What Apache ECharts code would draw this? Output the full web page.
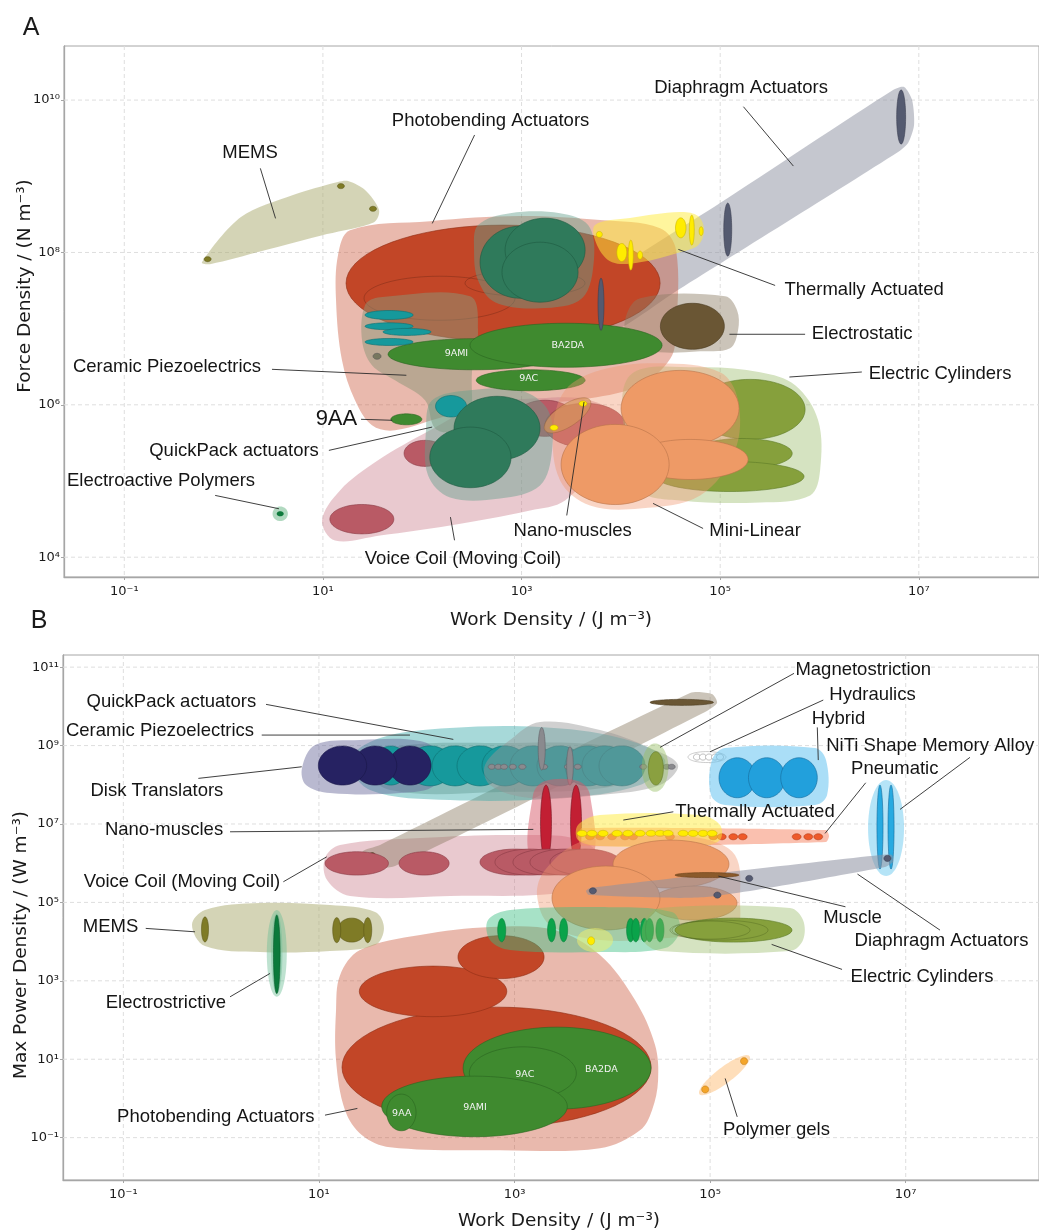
<!DOCTYPE html>
<html>
<head>
<meta charset="utf-8">
<script src="https://cdn.jsdelivr.net/npm/echarts@6/dist/echarts.min.js"></script>
<style>
  html, body { margin: 0; padding: 0; background: #fff; }
  #chart { width: 1039px; height: 1232px; }
</style>
</head>
<body>
<div id="chart"></div>
<script>
// All positions are log10 exponents of the plotted quantity.
// Ellipse records: [log10 work, log10 y, half-width (decades), half-height (decades)]
// Tilted ellipse records: [cx, cy, ax, ay, bx, by] (two conjugate semi-axis vectors).
// Envelope records: closed outlines, list of [log10 work, log10 y] vertices.

// ---------------- axes ----------------
const workTicksA = [-1, 1, 3, 5, 7];
const forceTicksA = [4, 6, 8, 10];
const workTicksB = [-1, 1, 3, 5, 7];
const powerTicksB = [-1, 1, 3, 5, 7, 9, 11];
const workRangeA = [-1.607, 8.21];
const forceRangeA = [3.74, 10.71];
const workRangeB = [-1.617, 8.363];
const powerRangeB = [-2.08, 11.31];

// ---------------- Panel A: force density ----------------
const envPhotobendingA = [[[1.273,8.293],[2.079,8.411],[2.984,8.477],[3.790,8.425],[4.395,8.319],[4.556,8.030],[4.556,6.979],[4.500,6.611],[4.193,6.256],[3.690,6.085],[2.984,5.993],[2.280,5.862],[1.726,5.665],[1.494,5.731],[1.323,6.059],[1.192,6.585],[1.132,7.373],[1.152,7.965]]];
const envVoiceCoilA = [[[0.991,4.483],[1.172,4.877],[1.555,5.271],[2.079,5.665],[2.582,5.993],[3.186,6.085],[3.690,6.059],[3.992,5.797],[3.790,5.271],[3.438,4.745],[3.086,4.614],[2.280,4.417],[1.575,4.286],[1.122,4.220]]];
const voiceCoilA = [[1.392,4.499,0.322,0.193],[2.028,5.363,0.211,0.171],[3.237,5.823,0.302,0.237],[3.639,5.731,0.403,0.289]];
const photobendingRedA = [[2.814,7.597,1.581,0.762]];
const photobendingRedOutlineA = [[2.174,7.399,0.760,0.289],[3.035,7.597,0.604,0.171]];
const envDiaphragmA = [[[3.770,7.610],[4.999,8.648],[6.741,10.133],[6.852,10.172],[6.932,10.000],[6.952,9.673],[6.892,9.436],[6.791,9.318],[4.526,7.465],[3.911,6.953],[3.770,7.110],[3.690,7.373]]];
const diaphragmA = [[3.800,7.320,0.030,0.342],[5.076,8.300,0.040,0.348],[6.822,9.778,0.045,0.355]];
const envThermalA = [[[3.740,8.359],[4.092,8.451],[4.596,8.530],[4.777,8.477],[4.838,8.293],[4.777,8.096],[4.596,8.004],[4.193,7.872],[3.911,7.872],[3.760,8.096]]];
const thermalA = [[3.783,8.237,0.030,0.039],[4.009,8.000,0.050,0.118],[4.100,7.965,0.025,0.197],[4.193,7.965,0.025,0.053],[4.603,8.323,0.053,0.131],[4.714,8.293,0.025,0.197],[4.808,8.280,0.020,0.059]];
const envElectrostaticA = [[[4.193,7.399],[5.049,7.425],[5.170,7.241],[5.180,6.979],[5.099,6.742],[4.798,6.703],[4.395,6.690],[4.093,6.782],[4.042,7.110]]];
const electrostaticA = [[4.720,7.031,0.322,0.302]];
const envMemsA = [[[-0.218,7.872],[0.175,8.464],[0.699,8.753],[1.151,8.924],[1.253,8.937],[1.424,8.819],[1.565,8.556],[1.515,8.398],[1.041,8.241],[0.387,8.018],[-0.137,7.846]]];
const memsA = [[-0.161,7.912,0.035,0.033],[1.181,8.871,0.035,0.033],[1.504,8.573,0.035,0.033]];
const envCeramicA = [[[1.424,7.307],[1.575,7.412],[2.481,7.425],[2.562,6.979],[2.502,6.454],[2.481,5.797],[2.330,5.639],[2.129,5.692],[2.028,6.059],[1.726,6.322],[1.494,6.519],[1.394,6.848]]];
const ceramicA = [[1.666,7.179,0.242,0.059],[1.666,7.031,0.242,0.046],[1.847,6.957,0.242,0.046],[1.666,6.825,0.242,0.046],[2.290,5.981,0.156,0.141]];
const ceramicDotA = [[1.545,6.637,0.040,0.039]];
const envQuickPackA = [
  [[2.562,8.359],[2.884,8.516],[3.388,8.516],[3.670,8.359],[3.730,7.925],[3.609,7.399],[3.186,7.268],[2.733,7.347],[2.562,7.636],[2.522,8.030]],
  [[2.099,6.059],[2.481,6.191],[2.985,6.191],[3.267,5.928],[3.307,5.402],[3.186,4.942],[2.783,4.771],[2.280,4.784],[2.058,5.074],[2.038,5.665]]
];
const quickPackA = [[2.985,7.872,0.403,0.473],[3.237,8.030,0.403,0.420],[3.186,7.741,0.383,0.394],[2.753,5.692,0.433,0.420],[2.485,5.310,0.409,0.398]];
// photobending composites: 9AMI, BA2DA, 9AC, 9AA
const photobendingGreenA = [[2.522,6.664,0.866,0.204],[3.448,6.782,0.967,0.289],[3.092,6.322,0.548,0.138],[1.840,5.810,0.156,0.072]];
const envCylindersA = [[[4.093,6.388],[4.798,6.493],[5.402,6.427],[5.755,6.256],[5.986,5.797],[6.006,5.140],[5.906,4.811],[5.402,4.719],[4.596,4.745],[4.193,4.877],[4.042,5.534]]];
const cylindersA = [[5.301,5.940,0.554,0.394],[5.221,5.361,0.504,0.197],[5.099,5.059,0.745,0.197]];
const envMiniLinearA = [[[3.790,6.454],[4.395,6.546],[4.999,6.427],[5.180,6.059],[5.150,5.402],[4.798,4.811],[4.193,4.640],[3.690,4.680],[3.388,5.008],[3.317,5.665],[3.438,6.191]]];
const miniLinearA = [[4.596,5.953,0.594,0.499],[4.697,5.283,0.584,0.263],[3.942,5.217,0.544,0.526]];
const nanoMusclesA = [[3.463,5.862,0.227,0.197,0.061,-0.121]];
const nanoDotsA = [[3.618,6.016,0.040,0.035],[3.327,5.700,0.040,0.035]];
const eapHaloA = [[0.570,4.570,0.077,0.096]];
const eapA = [[0.570,4.570,0.035,0.033]];

const labelTextA = ['MEMS','Photobending Actuators','Diaphragm Actuators','Thermally Actuated','Electrostatic','Electric Cylinders','Mini-Linear','Nano-muscles','Voice Coil (Moving Coil)','Ceramic Piezoelectrics','9AA','QuickPack actuators','Electroactive Polymers'];
const labelPosA = [[0.266,9.305],[2.688,9.729],[5.210,10.155],[6.449,7.505],[6.429,6.936],[7.214,6.401],[5.351,4.351],[3.515,4.351],[2.410,3.983],[-0.570,6.497],[1.136,5.819],[0.105,5.389],[-0.630,4.999]];
const leaderA = [[[0.370,9.104],[0.523,8.447]],[[2.527,9.542],[2.101,8.381]],[[5.234,9.913],[5.737,9.134]],[[4.579,8.040],[5.553,7.567]],[[5.093,6.926],[5.855,6.926]],[[5.697,6.365],[6.426,6.431]],[[4.324,4.706],[4.828,4.377]],[[3.455,4.548],[3.629,6.037]],[[2.325,4.222],[2.284,4.526]],[[0.487,6.466],[1.840,6.388]],[[1.384,5.810],[1.698,5.797]],[[1.060,5.402],[2.100,5.708]],[[-0.085,4.811],[0.557,4.636]]];
const tagTextA = ['9AMI','BA2DA','9AC'];
const tagPosA = [[2.344,6.673],[3.465,6.773],[3.072,6.348]];

// ---------------- Panel B: max power density ----------------
const envPhotobendingB = [[[1.216,3.145],[1.420,3.783],[2.034,4.166],[2.760,4.370],[3.414,4.293],[3.874,3.656],[4.232,2.508],[4.437,1.360],[4.468,0.467],[4.406,-0.298],[4.283,-0.809],[3.874,-1.268],[2.852,-1.319],[1.727,-1.242],[1.441,-0.936],[1.267,-0.298],[1.175,0.977],[1.175,2.253]]];
const photobendingRedB = [[2.816,0.798,1.580,1.531],[2.167,2.730,0.754,0.645],[2.862,3.605,0.440,0.548]];
// BA2DA, 9AC, 9AMI, 9AA
const photobendingGreenB = [[3.435,0.773,0.961,1.046],[3.085,0.645,0.547,0.671],[2.591,-0.204,0.949,0.773],[1.843,-0.357,0.150,0.467]];
const envMemsB = [[[-0.298,4.426],[-0.165,4.809],[0.398,4.982],[1.113,4.931],[1.574,4.753],[1.665,4.344],[1.574,3.911],[1.113,3.758],[0.398,3.732],[-0.165,3.885]]];
const memsB = [[1.335,4.293,0.143,0.306],[-0.165,4.311,0.036,0.319],[1.182,4.293,0.041,0.319],[1.499,4.293,0.041,0.319]];
const electrostrictiveHaloB = [[0.569,3.699,0.102,1.105],[0.569,3.699,0.058,1.020]];
const electrostrictiveB = [[0.569,3.676,0.034,1.000]];
const envVoiceCoilB = [[[1.062,6.130],[1.216,6.462],[2.034,6.640],[3.056,6.717],[3.670,6.589],[3.925,5.952],[3.670,5.314],[2.340,5.161],[1.318,5.161],[1.083,5.569]]];
const voiceCoilB = [[1.387,5.995,0.324,0.298],[2.075,5.995,0.256,0.298],[3.005,6.028,0.358,0.332],[3.158,6.028,0.358,0.332],[3.342,6.028,0.358,0.332],[3.516,6.028,0.358,0.332],[3.721,6.028,0.358,0.332]];
const envElectrostaticB = [[[1.441,6.283],[1.625,6.462],[4.795,10.339],[5.019,10.314],[5.071,10.084],[4.948,9.855],[1.778,5.926],[1.522,5.926]]];
const electrostaticB = [[1.546,6.207,0.031,0.064],[4.710,10.102,0.324,0.077]];
const envCeramicB = [[[1.318,8.630],[1.625,9.191],[2.340,9.446],[3.261,9.472],[4.079,9.191],[4.539,8.630],[4.283,7.992],[3.465,7.661],[2.340,7.610],[1.522,7.865]]];
const envQuickPackB = [[[1.420,8.579],[1.829,8.987],[2.852,9.064],[3.874,9.013],[4.334,8.630],[4.079,7.992],[2.852,7.814],[1.727,7.865]]];
const envDiskB = [[[0.827,8.426],[0.960,9.013],[1.420,9.140],[2.034,9.115],[2.238,8.758],[2.187,7.992],[1.829,7.788],[1.113,7.788],[0.868,7.992]]];
const ceramicB = [[1.735,8.490,0.179,0.497],[2.136,8.482,0.235,0.510],[2.392,8.482,0.235,0.510],[2.647,8.482,0.235,0.510],[2.903,8.482,0.235,0.510],[3.189,8.482,0.235,0.510],[3.465,8.482,0.235,0.510],[3.751,8.482,0.235,0.510],[3.925,8.482,0.235,0.510],[4.099,8.482,0.235,0.510]];
const diskB = [[1.931,8.490,0.215,0.497],[1.574,8.490,0.222,0.497],[1.241,8.490,0.247,0.497]];
const envMagnetoB = [[[2.698,8.503],[2.954,9.140],[3.261,9.599],[3.874,9.395],[4.385,8.936],[4.672,8.503],[4.488,7.992],[3.874,7.737],[3.159,7.661],[2.749,7.992]]];
const magnetoDotX = [2.767,2.834,2.893,2.982,3.080,3.302,3.547,3.646,4.317,4.495,4.556,4.607];
const magnetoTallB = [[3.278,8.918,0.036,0.543],[3.567,8.482,0.034,0.490]];
const magnetoHaloB = [[4.437,8.439,0.136,0.617]];
const magnetoOliveB = [[4.445,8.418,0.077,0.426]];
const hydraulicsEnvB = [[4.968,8.707,0.194,0.140]];
const hydraulicsDotX = [4.866,4.927,4.989,5.050,5.101];
const envHybridB = [[[5.019,8.630],[5.152,8.936],[6.073,8.936],[6.185,8.630],[6.196,7.737],[6.073,7.482],[5.152,7.482],[5.009,7.737]]];
const hybridB = [[5.278,8.179,0.187,0.510],[5.579,8.179,0.187,0.510],[5.909,8.179,0.187,0.510]];
const nitiEnvB = [[6.799,6.896,0.184,1.224]];
const nitiB = [[6.737,6.921,0.031,1.071],[6.850,6.921,0.031,1.071]];
const envNanoB = [[[3.189,7.737],[3.312,8.094],[3.649,8.094],[3.772,7.737],[3.772,6.028],[3.189,6.028]]];
const nanoB = [[3.322,7.023,0.056,0.969],[3.629,7.023,0.056,0.969]];
const envPneumaticB = [[[3.690,6.895],[6.185,6.844],[6.216,6.691],[6.185,6.538],[3.690,6.436],[3.649,6.665]]];
const pneumaticDotX = [3.772,3.874,3.997,4.130,4.212,4.590,5.033,5.119,5.237,5.333,5.885,6.004,6.106];
const envThermalB = [[[3.649,6.972],[3.874,7.227],[4.897,7.227],[5.101,6.972],[5.101,6.589],[4.897,6.436],[3.874,6.436],[3.649,6.589]]];
const thermalDotX = [3.690,3.792,3.905,4.048,4.160,4.283,4.396,4.488,4.570,4.724,4.826,4.928,5.020];
const envMiniLinearB = [[[3.312,5.824],[3.670,6.538],[4.283,6.691],[4.897,6.640],[5.254,6.207],[5.306,5.059],[5.254,4.293],[4.692,4.115],[3.874,4.039],[3.363,4.421],[3.230,5.186]]];
const miniLinearB = [[4.600,5.977,0.593,0.612],[4.835,4.982,0.440,0.434],[3.935,5.112,0.552,0.816]];
const envGreenBandB = [[[2.729,4.549],[2.954,4.804],[3.874,4.880],[4.610,4.753],[4.692,4.293],[4.539,3.834],[3.874,3.732],[2.954,3.783],[2.749,4.039]]];
const greenBandX = [2.869,3.379,3.502,4.187,4.240,4.328,4.380,4.487];
const yellowHaloB = [[3.823,4.039,0.184,0.306]];
const yellowDotB = [[3.783,4.020,0.036,0.102]];
const envCylindersB = [[[4.334,4.549],[4.487,4.855],[5.817,4.855],[5.950,4.549],[5.950,4.039],[5.817,3.758],[4.487,3.758],[4.314,4.039]]];
const cylindersB = [[5.239,4.293,0.598,0.306]];
const cylindersOutlineB = [[5.101,4.293,0.491,0.255],[4.999,4.293,0.409,0.230]];
const envDiaphragmB = [[[3.772,5.365],[6.737,6.207],[6.860,6.207],[6.870,6.028],[6.788,5.901],[4.958,5.135],[3.761,5.186],[3.731,5.288]]];
const diaphragmDotsB = [[3.801,5.296],[5.074,5.186],[5.400,5.612],[6.813,6.122]];
const muscleB = [[4.968,5.697,0.327,0.064]];
const gelEnvB = [[5.147,0.594,0.256,0.485,0.049,-0.163]];
const gelDotsB = [[4.950,0.230,0.036,0.089],[5.347,0.952,0.036,0.089]];

const labelTextB = ['QuickPack actuators','Ceramic Piezoelectrics','Disk Translators','Nano-muscles','Voice Coil (Moving Coil)','MEMS','Electrostrictive','Photobending Actuators','Magnetostriction','Hydraulics','Hybrid','NiTi Shape Memory Alloy','Pneumatic','Thermally Actuated','Muscle','Diaphragm Actuators','Electric Cylinders','Polymer gels'];
const labelPosB = [[-0.509,10.117],[-0.625,9.370],[-0.657,7.847],[-0.584,6.844],[-0.400,5.526],[-1.131,4.378],[-0.565,2.449],[-0.054,-0.469],[6.566,10.926],[6.661,10.288],[6.313,9.676],[7.251,8.987],[6.888,8.393],[5.459,7.311],[6.456,4.592],[7.366,4.013],[7.167,3.102],[5.679,-0.791]];
const leaderB = [[[0.459,10.051],[2.374,9.158]],[[0.415,9.268],[1.931,9.268]],[[-0.233,8.163],[0.824,8.459]],[[0.091,6.801],[3.192,6.862]],[[0.636,5.526],[1.080,6.163]],[[-0.771,4.337],[-0.267,4.250]],[[0.091,2.592],[0.500,3.189]],[[1.062,-0.426],[1.393,-0.255]],[[5.858,10.842],[4.488,8.954]],[[6.157,10.161],[4.999,8.842]],[[6.096,9.464],[6.106,8.630]],[[7.657,8.699],[6.942,7.372]],[[6.591,8.051],[6.175,6.760]],[[4.624,7.311],[4.112,7.100]],[[6.384,4.888],[5.084,5.671]],[[7.351,4.293],[6.507,5.722]],[[6.349,3.291],[5.629,3.929]],[[5.277,-0.469],[5.154,0.510]]];
const tagTextB = ['9AA','9AMI','9AC','BA2DA'];
const tagPosB = [[1.847,-0.383],[2.596,-0.230],[3.105,0.612],[3.888,0.740]];

// ---------------- drawing helpers ----------------
const SUP = {'-':'\u207B','0':'\u2070','1':'\u00B9','2':'\u00B2','3':'\u00B3','4':'\u2074','5':'\u2075','6':'\u2076','7':'\u2077','8':'\u2078','9':'\u2079'};
const pow10 = v => '10' + String(Math.round(v)).split('').map(c => SUP[c]).join('');

const series = [];

function ellipsePts(api, e) {
  const tilted = e.length > 4;
  const ax = e[2], ay = tilted ? e[3] : 0;
  const bx = tilted ? e[4] : 0, by = tilted ? e[5] : e[3];
  const pts = [];
  const n = 72;
  for (let k = 0; k < n; k++) {
    const t = k / n * Math.PI * 2;
    const c = Math.cos(t), s = Math.sin(t);
    pts.push(api.coord([e[0] + ax * c + bx * s, e[1] + ay * c + by * s]));
  }
  return pts;
}

function ellipses(panel, name, list, fill, stroke, lw) {
  series.push({
    type: 'custom', name, xAxisIndex: panel, yAxisIndex: panel, clip: true, silent: true,
    data: list.map(e => [e[0], e[1]]), encode: { x: 0, y: 1 },
    renderItem: (params, api) => ({
      type: 'polygon',
      shape: { points: ellipsePts(api, list[params.dataIndex]) },
      style: { fill: fill, stroke: stroke || null, lineWidth: stroke ? (lw || 0.6) : 0 }
    })
  });
}

function dotsRow(xs, y, rx, ry) { return xs.map(x => [x, y, rx, ry]); }

function envelopes(panel, name, polys, fill, smooth, stroke) {
  series.push({
    type: 'custom', name, xAxisIndex: panel, yAxisIndex: panel, clip: true, silent: true,
    data: polys.map(p => p[0]), encode: { x: 0, y: 1 },
    renderItem: (params, api) => ({
      type: 'polygon',
      shape: { points: polys[params.dataIndex].map(p => api.coord(p)), smooth: smooth == null ? 0.35 : smooth },
      style: { fill: fill, stroke: stroke || null, lineWidth: stroke ? 0.8 : 0 }
    })
  });
}

function gridLines(panel, xs, ys) {
  const items = xs.map(v => [v, ys[0], 0]).concat(ys.map(v => [xs[0], v, 1]));
  series.push({
    type: 'custom', name: 'grid', xAxisIndex: panel, yAxisIndex: panel, silent: true,
    data: items, encode: { x: 0, y: 1 },
    renderItem: (params, api) => {
      const cs = params.coordSys;
      const p = api.coord([api.value(0), api.value(1)]);
      const shape = api.value(2) === 0
        ? { x1: p[0], y1: cs.y, x2: p[0], y2: cs.y + cs.height }
        : { x1: cs.x, y1: p[1], x2: cs.x + cs.width, y2: p[1] };
      return { type: 'line', shape, style: { stroke: '#dedede', lineWidth: 1, lineDash: [4, 3] } };
    }
  });
}

function labels(panel, texts, pos, leaders, bigIndex) {
  series.push({
    type: 'custom', name: 'labels', xAxisIndex: panel, yAxisIndex: panel, clip: false, silent: true, z: 10,
    data: pos.map(p => [p[0], p[1]]), encode: { x: 0, y: 1 },
    renderItem: (params, api) => {
      const i = params.dataIndex;
      const p = api.coord(pos[i]);
      const children = [];
      if (leaders[i]) {
        const a = api.coord(leaders[i][0]), b = api.coord(leaders[i][1]);
        children.push({ type: 'line', shape: { x1: a[0], y1: a[1], x2: b[0], y2: b[1] }, style: { stroke: '#2a2a2a', lineWidth: 0.9 } });
      }
      children.push({
        type: 'text', x: p[0], y: p[1],
        style: { text: texts[i], fill: '#151515', fontFamily: 'Liberation Sans, Arial, sans-serif',
          fontSize: i === bigIndex ? 22 : 18.5, align: 'center', verticalAlign: 'middle',
          textAlign: 'center', textVerticalAlign: 'middle' }
      });
      return { type: 'group', children };
    }
  });
}

function tags(panel, texts, pos) {
  series.push({
    type: 'custom', name: 'tags', xAxisIndex: panel, yAxisIndex: panel, clip: true, silent: true, z: 9,
    data: pos.map(p => [p[0], p[1]]), encode: { x: 0, y: 1 },
    renderItem: (params, api) => {
      const p = api.coord(pos[params.dataIndex]);
      return { type: 'text', x: p[0], y: p[1],
        style: { text: texts[params.dataIndex], fill: '#f4f4f4', fontFamily: 'DejaVu Sans', fontSize: 9.5,
          align: 'center', verticalAlign: 'middle', textAlign: 'center', textVerticalAlign: 'middle' } };
    }
  });
}

// ---------------- Panel A layers ----------------
gridLines(0, workTicksA, forceTicksA);
envelopes(0, 'Diaphragm Actuators', envDiaphragmA, 'rgba(140,143,160,0.5)', 0.25);
envelopes(0, 'Photobending Actuators', envPhotobendingA, 'rgba(200,80,50,0.4)');
envelopes(0, 'Voice Coil', envVoiceCoilA, 'rgba(200,120,135,0.4)');
ellipses(0, 'Voice Coil', voiceCoilA, '#b95a65', '#8a3a45');
ellipses(0, 'Photobending', photobendingRedA, '#c24627', '#8e2e14');
ellipses(0, 'Photobending', photobendingRedOutlineA, 'rgba(0,0,0,0)', 'rgba(90,30,15,0.55)');
envelopes(0, 'Thermally Actuated', envThermalA, 'rgba(255,235,60,0.5)');
envelopes(0, 'Electrostatic', envElectrostaticA, 'rgba(140,125,100,0.45)');
envelopes(0, 'MEMS', envMemsA, 'rgba(170,170,110,0.5)', 0.3);
ellipses(0, 'MEMS', memsA, '#7f7b26', '#5a5618');
envelopes(0, 'Ceramic Piezoelectrics', envCeramicA, 'rgba(140,150,120,0.5)');
envelopes(0, 'QuickPack actuators', envQuickPackA, 'rgba(100,160,140,0.45)');
ellipses(0, 'Photobending', photobendingGreenA, '#3f8a2f', '#2a6420');
ellipses(0, 'Ceramic Piezoelectrics', ceramicA, '#16999c', '#0e6f70');
ellipses(0, 'Ceramic Piezoelectrics', ceramicDotA, '#77775f', '#555');
ellipses(0, 'QuickPack actuators', quickPackA, '#2f7a5b', '#1e5a41');
ellipses(0, 'Diaphragm Actuators', diaphragmA, '#545a70', '#3a3e50');
ellipses(0, 'Thermally Actuated', thermalA, '#ffec00', '#c9b400');
ellipses(0, 'Electrostatic', electrostaticA, '#6a5634', '#4a3a20');
envelopes(0, 'Electric Cylinders', envCylindersA, 'rgba(150,185,100,0.4)');
ellipses(0, 'Electric Cylinders', cylindersA, '#86a03c', '#5d7a26');
envelopes(0, 'Mini-Linear', envMiniLinearA, 'rgba(240,150,110,0.4)');
ellipses(0, 'Nano-muscles', nanoMusclesA, 'rgba(215,150,90,0.65)', 'rgba(140,90,50,0.6)');
ellipses(0, 'Nano-muscles', nanoDotsA, '#ffec00', '#c9b400');
ellipses(0, 'Mini-Linear', miniLinearA, '#ee9a66', '#b8744a');
ellipses(0, 'Electroactive Polymers', eapHaloA, 'rgba(100,180,130,0.5)');
ellipses(0, 'Electroactive Polymers', eapA, '#0e7a3c');
tags(0, tagTextA, tagPosA);
labels(0, labelTextA, labelPosA, leaderA, 10);

// ---------------- Panel B layers ----------------
gridLines(1, workTicksB, powerTicksB);
envelopes(1, 'Photobending Actuators', envPhotobendingB, 'rgba(200,80,50,0.4)');
ellipses(1, 'Photobending', photobendingRedB, '#c24627', '#8e2e14');
ellipses(1, 'Photobending', photobendingGreenB, '#3f8a2f', '#2a6420');
envelopes(1, 'MEMS', envMemsB, 'rgba(170,170,110,0.5)');
ellipses(1, 'MEMS', memsB, '#7f7b26', '#5a5618');
ellipses(1, 'Electrostrictive', electrostrictiveHaloB, 'rgba(110,190,150,0.45)');
ellipses(1, 'Electrostrictive', electrostrictiveB, '#0b7a3b', '#075a2a');
envelopes(1, 'Voice Coil', envVoiceCoilB, 'rgba(200,120,135,0.4)');
envelopes(1, 'Electrostatic', envElectrostaticB, 'rgba(140,125,100,0.45)', 0.25);
ellipses(1, 'Electrostatic', electrostaticB, '#6a5634', '#4a3a20');
envelopes(1, 'Ceramic Piezoelectrics', envCeramicB, 'rgba(60,170,170,0.45)');
envelopes(1, 'QuickPack actuators', envQuickPackB, 'rgba(70,130,120,0.3)');
envelopes(1, 'Disk Translators', envDiskB, 'rgba(100,100,150,0.45)');
ellipses(1, 'Ceramic Piezoelectrics', ceramicB, '#16999c', '#0e6f70');
ellipses(1, 'Disk Translators', diskB, '#262262', '#1a1848');
envelopes(1, 'Magnetostriction', envMagnetoB, 'rgba(150,150,150,0.45)');
ellipses(1, 'Magnetostriction', dotsRow(magnetoDotX, 8.459, 0.036, 0.064), '#8a8a8e', '#606066');
ellipses(1, 'Magnetostriction', magnetoTallB, '#8a8a8e', '#606066');
ellipses(1, 'Magnetostriction', magnetoHaloB, 'rgba(150,190,100,0.45)');
ellipses(1, 'Magnetostriction', magnetoOliveB, '#8aa040', '#62782a');
ellipses(1, 'Hydraulics', hydraulicsEnvB, '#ffffff', '#aaaaaa');
ellipses(1, 'Hydraulics', dotsRow(hydraulicsDotX, 8.707, 0.036, 0.077), '#ffffff', '#8a8a8a');
envelopes(1, 'Hybrid', envHybridB, 'rgba(100,195,240,0.55)');
ellipses(1, 'Hybrid', hybridB, '#22a0dc', '#15699a');
ellipses(1, 'NiTi Shape Memory Alloy', nitiEnvB, 'rgba(120,205,240,0.55)');
ellipses(1, 'NiTi Shape Memory Alloy', nitiB, '#27aae1', '#15699a');
envelopes(1, 'Nano-muscles', envNanoB, 'rgba(215,90,105,0.5)');
ellipses(1, 'Nano-muscles', nanoB, '#c21f33', '#7a1220');
envelopes(1, 'Pneumatic', envPneumaticB, 'rgba(245,140,110,0.55)', 0.2);
ellipses(1, 'Pneumatic', dotsRow(pneumaticDotX, 6.674, 0.045, 0.077), '#ee5a2a', '#b03a18');
envelopes(1, 'Thermally Actuated', envThermalB, 'rgba(255,235,60,0.5)');
ellipses(1, 'Thermally Actuated', dotsRow(thermalDotX, 6.760, 0.051, 0.077), '#ffec00', '#c9b400');
ellipses(1, 'Voice Coil', voiceCoilB, '#b95a65', '#8a3a45');
envelopes(1, 'Mini-Linear', envMiniLinearB, 'rgba(240,150,110,0.4)');
ellipses(1, 'Mini-Linear', miniLinearB, '#ee9a66', '#b8744a');
envelopes(1, 'Electroactive', envGreenBandB, 'rgba(60,190,130,0.45)');
ellipses(1, 'Electroactive', dotsRow(greenBandX, 4.293, 0.041, 0.298), '#0aa34a', '#08803a');
ellipses(1, 'Thermally Actuated', yellowHaloB, 'rgba(240,240,110,0.5)');
ellipses(1, 'Thermally Actuated', yellowDotB, '#ffec00', '#c9b400');
envelopes(1, 'Electric Cylinders', envCylindersB, 'rgba(150,185,100,0.4)');
ellipses(1, 'Electric Cylinders', cylindersB, '#86a03c', '#5d7a26');
ellipses(1, 'Electric Cylinders', cylindersOutlineB, 'rgba(0,0,0,0)', 'rgba(60,80,20,0.5)');
envelopes(1, 'Diaphragm Actuators', envDiaphragmB, 'rgba(140,143,160,0.55)', 0.2);
ellipses(1, 'Diaphragm Actuators', diaphragmDotsB.map(d => [d[0], d[1], 0.036, 0.077]), '#555a70', '#3a3e50');
ellipses(1, 'Muscle', muscleB, '#8b5a2b', '#6a4018');
ellipses(1, 'Polymer gels', gelEnvB, 'rgba(253,200,140,0.6)');
ellipses(1, 'Polymer gels', gelDotsB, '#f4a52a', '#c07a10');
tags(1, tagTextB, tagPosB);
labels(1, labelTextB, labelPosB, leaderB, -1);

// ---------------- axes ----------------
function axis(gridIndex, range, ticks, isY) {
  return {
    type: 'value', gridIndex, min: range[0], max: range[1],
    axisLine: { show: true, onZero: false, lineStyle: { color: '#a6a6a6', width: 1.3 } },
    axisTick: { show: true, customValues: ticks, length: 3, lineStyle: { color: '#a6a6a6' } },
    axisLabel: {
      customValues: ticks,
      formatter: v => ticks.some(t => Math.abs(t - v) < 1e-6) ? pow10(v) : '',
      color: '#1a1a1a', fontFamily: 'DejaVu Sans', fontSize: 13,
      margin: isY ? 4 : 8
    },
    splitLine: { show: false }
  };
}

const titleFont = { fontFamily: 'DejaVu Sans', fontSize: 18.5, fill: '#1a1a1a', align: 'center', verticalAlign: 'middle', textAlign: 'center', textVerticalAlign: 'middle' };

const option = {
  animation: false,
  backgroundColor: '#ffffff',
  grid: [
    { left: 64, right: 0, top: 46, bottom: 655, show: true, borderColor: '#a6a6a6', borderWidth: 1 },
    { left: 63, right: 0, top: 655, bottom: 52, show: true, borderColor: '#a6a6a6', borderWidth: 1 }
  ],
  xAxis: [axis(0, workRangeA, workTicksA, false), axis(1, workRangeB, workTicksB, false)],
  yAxis: [axis(0, forceRangeA, forceTicksA, true), axis(1, powerRangeB, powerTicksB, true)],
  graphic: [
    { type: 'text', x: 31, y: 28, style: Object.assign({}, titleFont, { text: 'A', fontFamily: 'Liberation Sans', fontSize: 25 }) },
    { type: 'text', x: 39, y: 621, style: Object.assign({}, titleFont, { text: 'B', fontFamily: 'Liberation Sans', fontSize: 25 }) },
    { type: 'text', x: 551, y: 620, style: Object.assign({}, titleFont, { text: 'Work Density / (J m\u207B\u00B3)' }) },
    { type: 'text', x: 25, y: 286, rotation: Math.PI / 2, style: Object.assign({}, titleFont, { text: 'Force Density / (N m\u207B\u00B3)' }) },
    { type: 'text', x: 559, y: 1221, style: Object.assign({}, titleFont, { text: 'Work Density / (J m\u207B\u00B3)' }) },
    { type: 'text', x: 21, y: 945, rotation: Math.PI / 2, style: Object.assign({}, titleFont, { text: 'Max Power Density / (W m\u207B\u00B3)' }) }
  ],
  series
};

const chart = echarts.init(document.getElementById('chart'), null, { renderer: 'canvas' });
chart.setOption(option);
</script>
</body>
</html>
